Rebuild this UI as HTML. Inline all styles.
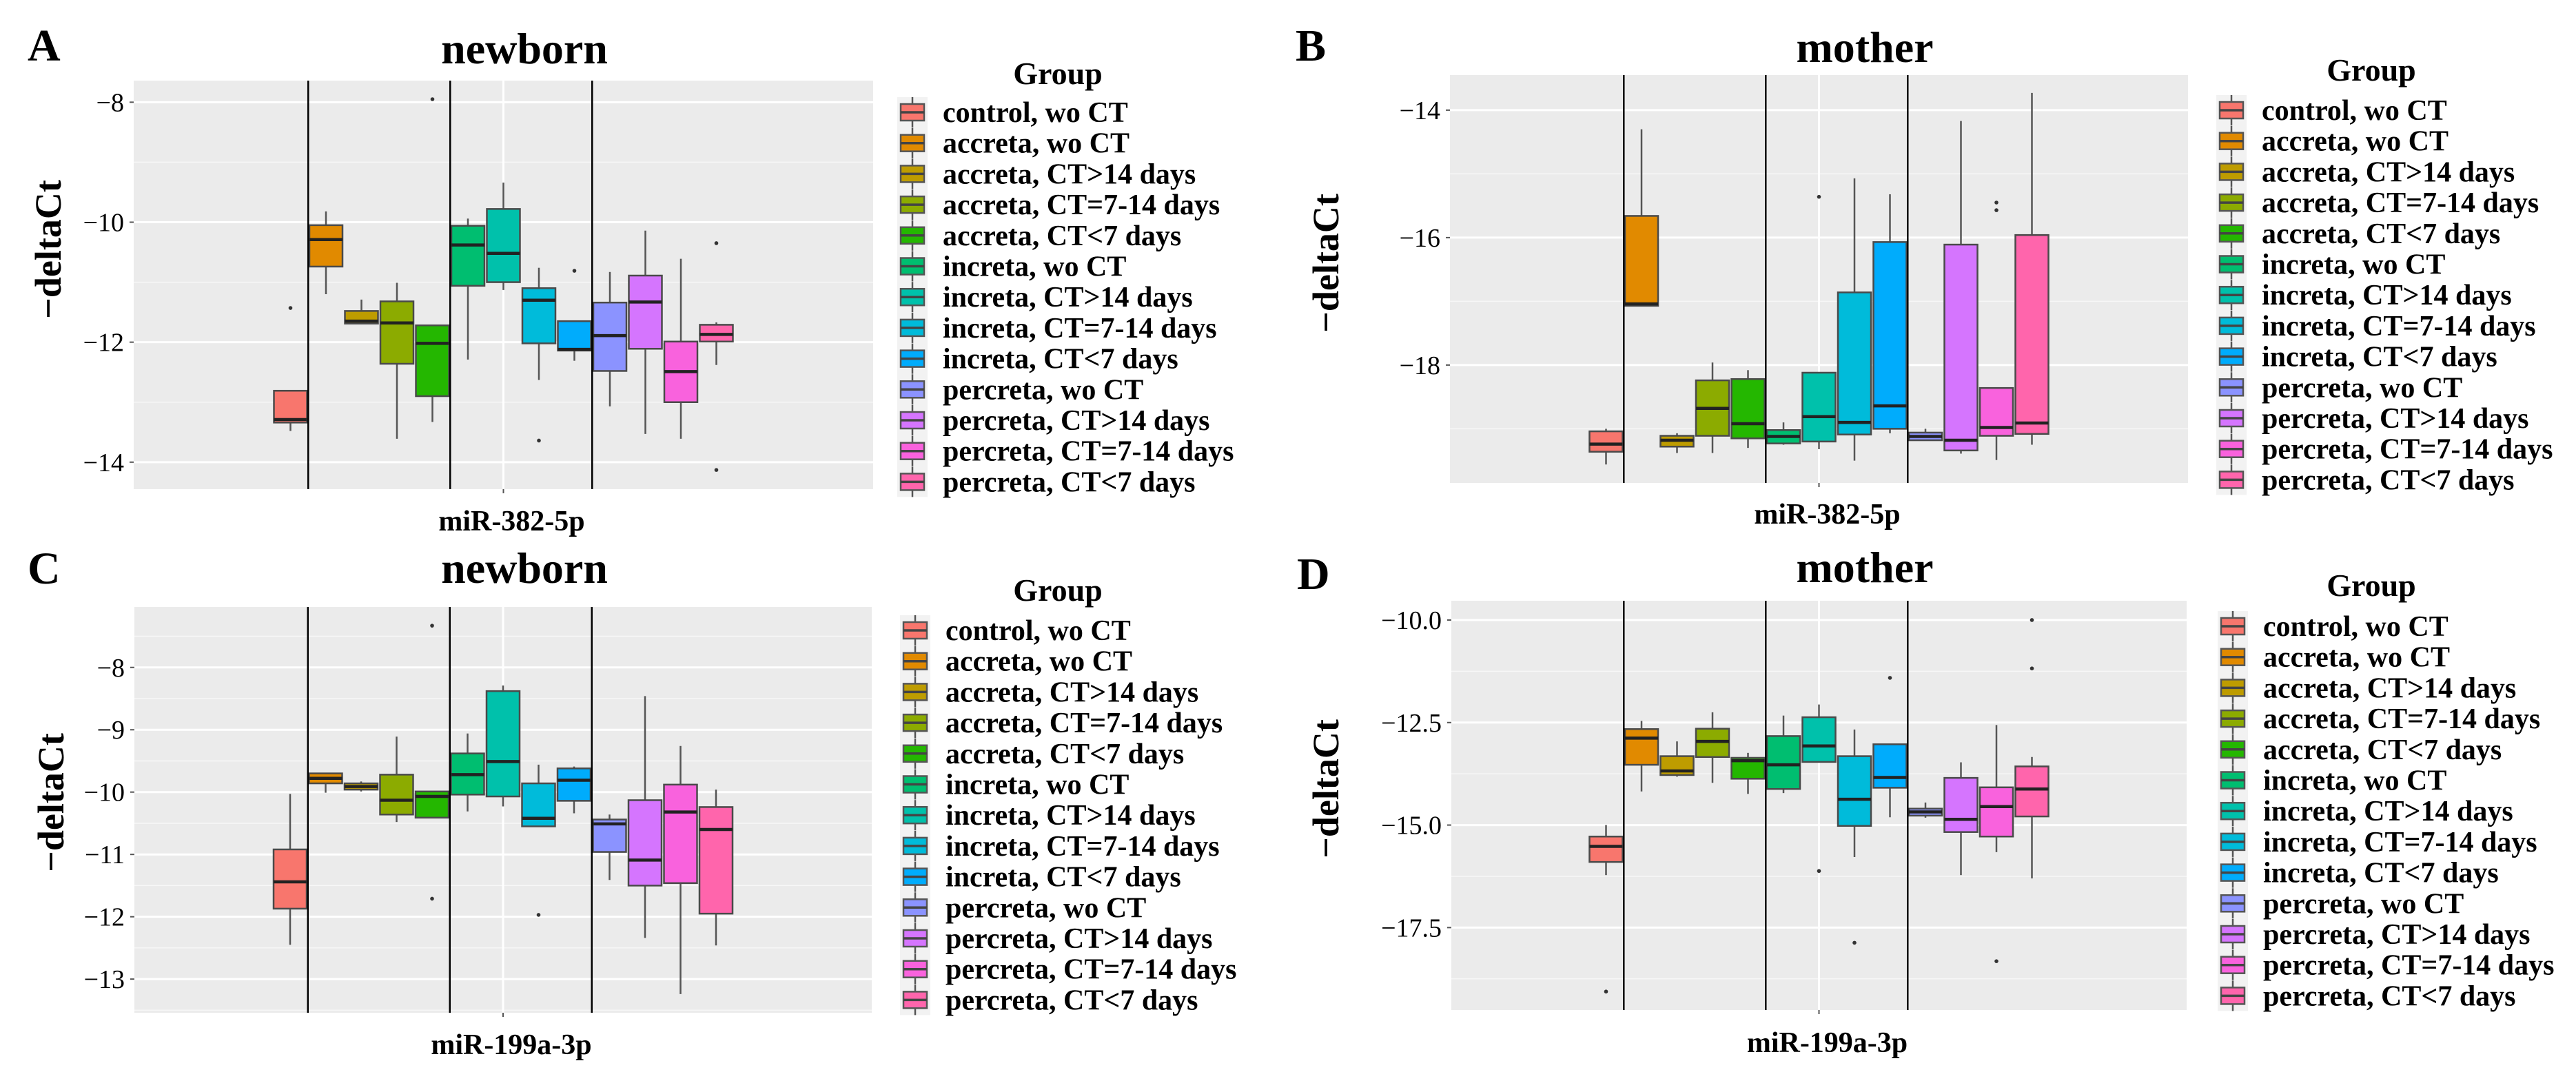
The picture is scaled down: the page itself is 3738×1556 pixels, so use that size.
<!DOCTYPE html>
<html><head><meta charset="utf-8"><style>
html,body{margin:0;padding:0;background:#fff;}
svg{display:block;}
text{font-family:"Liberation Serif",serif;}
</style></head><body>
<svg id="fig" xmlns="http://www.w3.org/2000/svg" width="3738" height="1556" viewBox="0 0 3738 1556"></svg>
<script>
const groups = ["control, wo CT","accreta, wo CT","accreta, CT>14 days","accreta, CT=7-14 days","accreta, CT<7 days","increta, wo CT","increta, CT>14 days","increta, CT=7-14 days","increta, CT<7 days","percreta, wo CT","percreta, CT>14 days","percreta, CT=7-14 days","percreta, CT<7 days"];
const colors = ["#F8766D","#E18A00","#BE9C00","#8CAB00","#24B700","#00BE70","#00C1AB","#00BBDA","#00ACFC","#8B93FF","#D575FE","#F962DD","#FF65AC"];

// Panel A (newborn, miR-382-5p)
const A_hi  = [-12.81,-9.82,-11.29,-11.01,-11.72,-9.94,-9.34,-10.76,-11.65,-10.83,-10.14,-10.61,-11.67];
const A_q3  = [-12.81,-10.05,-11.48,-11.32,-11.72,-10.06,-9.78,-11.10,-11.65,-11.34,-10.89,-11.99,-11.71];
const A_med = [-13.29,-10.29,-11.65,-11.68,-12.02,-10.38,-10.52,-11.30,-12.12,-11.89,-11.33,-12.49,-11.87];
const A_q1  = [-13.34,-10.74,-11.69,-12.36,-12.90,-11.06,-11.00,-12.02,-12.14,-12.48,-12.11,-13.00,-11.99];
const A_lo  = [-13.48,-11.20,-11.70,-13.61,-13.33,-12.29,-11.13,-12.63,-12.31,-13.07,-13.53,-13.61,-12.38];
const A_outGroup = [0,4,7,8,12,12];
const A_outVal   = [-11.43,-7.95,-13.64,-10.81,-10.35,-14.13];
const A_ticks = [-8,-10,-12,-14];

// Panel B (mother, miR-382-5p)
const B_hi  = [-19.00,-14.30,-19.07,-17.96,-18.08,-18.90,-18.12,-15.07,-15.32,-19.00,-14.17,-18.36,-13.73];
const B_q3  = [-19.04,-15.66,-19.11,-18.24,-18.22,-19.02,-18.12,-16.86,-16.07,-19.06,-16.11,-18.36,-15.96];
const B_med = [-19.24,-17.04,-19.18,-18.68,-18.92,-19.12,-18.81,-18.90,-18.64,-19.12,-19.18,-18.98,-18.91];
const B_q1  = [-19.36,-17.07,-19.28,-19.11,-19.15,-19.23,-19.20,-19.09,-19.00,-19.18,-19.34,-19.11,-19.08];
const B_lo  = [-19.56,-17.07,-19.38,-19.38,-19.30,-19.25,-19.32,-19.50,-19.07,-19.19,-19.39,-19.49,-19.25];
const B_outGroup = [6,11,11];
const B_outVal   = [-15.36,-15.45,-15.57];
const B_ticks = [-14,-16,-18];

// Panel C (newborn, miR-199a-3p)
const C_hi  = [-10.03,-9.70,-9.83,-9.11,-9.99,-9.06,-8.29,-9.56,-9.59,-10.36,-8.46,-9.26,-9.96];
const C_q3  = [-10.92,-9.70,-9.86,-9.72,-9.99,-9.38,-8.38,-9.86,-9.62,-10.44,-10.13,-9.88,-10.24];
const C_med = [-11.44,-9.78,-9.91,-10.13,-10.07,-9.72,-9.51,-10.42,-9.81,-10.51,-11.09,-10.32,-10.60];
const C_q1  = [-11.87,-9.86,-9.96,-10.36,-10.41,-10.04,-10.07,-10.55,-10.14,-10.96,-11.50,-11.46,-11.95];
const C_lo  = [-12.45,-10.01,-9.99,-10.48,-10.41,-10.31,-10.23,-10.56,-10.34,-11.41,-12.34,-13.24,-12.46];
const C_outGroup = [4,4,7];
const C_outVal   = [-7.33,-11.71,-11.97];
const C_ticks = [-8,-9,-10,-11,-12,-13];

// Panel D (mother, miR-199a-3p)
const D_hi  = [-15.00,-12.46,-12.96,-12.25,-13.24,-12.33,-12.06,-12.67,-13.03,-14.45,-13.47,-12.56,-13.34];
const D_q3  = [-15.28,-12.66,-13.32,-12.65,-13.36,-12.83,-12.37,-13.32,-13.03,-14.60,-13.85,-14.08,-13.57];
const D_med = [-15.52,-12.88,-13.68,-12.96,-13.43,-13.53,-13.07,-14.37,-13.84,-14.68,-14.86,-14.55,-14.12];
const D_q1  = [-15.90,-13.53,-13.78,-13.34,-13.87,-14.12,-13.46,-15.02,-14.09,-14.77,-15.17,-15.28,-14.79];
const D_lo  = [-16.22,-14.18,-13.82,-13.97,-14.24,-14.22,-13.46,-15.78,-14.81,-14.82,-16.22,-15.66,-16.30];
const D_outGroup = [0,6,7,8,11,12,12];
const D_outVal   = [-19.06,-16.12,-17.87,-11.41,-18.32,-10.00,-11.18];
const D_ticks = [-10.0,-12.5,-15.0,-17.5];
const D_tickLabels = ["-10.0","-12.5","-15.0","-17.5"];

const NS = "http://www.w3.org/2000/svg";
const svg = document.getElementById('fig');
function mk(tag, attrs, parent){
  const e = document.createElementNS(NS, tag);
  for (const k in attrs) e.setAttribute(k, attrs[k]);
  (parent||svg).appendChild(e);
  return e;
}

function panel(cfg){
  const g = mk('g', {});
  
  
  const y = v => cfg.py0 + (cfg.vmax - v) / (cfg.vmax - cfg.vmin) * (cfg.py1 - cfg.py0);
  const cx = (cfg.px0 + cfg.px1) / 2;
  const xb = i => cx + (i - 6) * 51.5;
  const bg = mk('rect', {x:cfg.px0, y:cfg.py0, width:cfg.px1-cfg.px0, height:cfg.py1-cfg.py0, fill:'#ebebeb'}, g);
  
  
  const t = cfg.ticks;
  const step = t[0] - t[1];
  for (let v = t[0] + step/2; v > cfg.vmin; v -= step) {
    if (v < cfg.vmax) {
      const ml = mk('line', {x1:cfg.px0, x2:cfg.px1, y1:y(v), y2:y(v), stroke:'#f7f7f7', 'stroke-width':1.5}, g);
      
      
    }
  }
  t.forEach((v, k) => {
    const gl = mk('line', {x1:cfg.px0, x2:cfg.px1, y1:y(v), y2:y(v), stroke:'#fff', 'stroke-width':3}, g);
    
    
    const tk = mk('line', {x1:cfg.px0-6, x2:cfg.px0, y1:y(v), y2:y(v), stroke:'#555', 'stroke-width':2}, g);
    
    
    const lab = (cfg.tickLabels ? cfg.tickLabels[k] : String(v)).replace('-', '\u2212');
    const tl = mk('text', {x:cfg.px0-14, y:y(v)+13, 'text-anchor':'end', 'font-size':38, fill:'#000'}, g);
    tl.textContent = lab;
    
    
  });
  const vg = mk('line', {x1:cx, x2:cx, y1:cfg.py0, y2:cfg.py1, stroke:'#fff', 'stroke-width':3}, g);
  
  
  const xt = mk('line', {x1:cx, x2:cx, y1:cfg.py1, y2:cfg.py1+6, stroke:'#555', 'stroke-width':2}, g);
  
  
  for (let i = 0; i < 13; i++) {
    const bx = mk('g', {}, g);
    
    
    const x = xb(i);
    mk('line', {x1:x, x2:x, y1:y(cfg.hi[i]), y2:y(cfg.q3[i]), stroke:'#555', 'stroke-width':2.5}, bx);
    mk('line', {x1:x, x2:x, y1:y(cfg.q1[i]), y2:y(cfg.lo[i]), stroke:'#555', 'stroke-width':2.5}, bx);
    mk('rect', {x:x-24, y:y(cfg.q3[i]), width:48, height:Math.max(1, y(cfg.q1[i])-y(cfg.q3[i])), fill:colors[i], stroke:'#4a4a4a', 'stroke-width':2.5}, bx);
    mk('line', {x1:x-24, x2:x+24, y1:y(cfg.med[i]), y2:y(cfg.med[i]), stroke:'#222', 'stroke-width':4.5}, bx);
  }
  cfg.outG.forEach((gi, k) => {
    const o = mk('circle', {cx:xb(gi), cy:y(cfg.outV[k]), r:2.8, fill:'#333'}, g);
    
    
  });
  [0.5, 4.5, 8.5].forEach(p => {
    const s = mk('line', {x1:xb(p), x2:xb(p), y1:cfg.py0, y2:cfg.py1, stroke:'#000', 'stroke-width':2.5}, g);
    
    
  });
  const L = mk('text', {x:cfg.lx, y:cfg.ly, 'font-size':66, 'font-weight':'bold'}, g);
  L.textContent = cfg.letter;
  
  
  const T = mk('text', {x:cfg.tx, y:cfg.ty, 'font-size':64, 'font-weight':'bold', 'text-anchor':'middle'}, g);
  T.textContent = cfg.title;
  
  
  const X = mk('text', {x:cx+12, y:cfg.xly, 'font-size':42, 'font-weight':'bold', 'text-anchor':'middle'}, g);
  X.textContent = cfg.xlab;
  
  
  const Y = mk('text', {x:0, y:0, 'font-size':54, 'font-weight':'bold', 'text-anchor':'middle', transform:`translate(${cfg.ytx},${cfg.yty}) rotate(-90)`}, g);
  Y.textContent = '\u2212deltaCt';
  
  
  const lg = mk('g', {}, g);
  
  
  const GT = mk('text', {x:cfg.gx, y:cfg.gy, 'font-size':46, 'font-weight':'bold', 'text-anchor':'middle'}, lg);
  GT.textContent = 'Group';
  
  
  mk('rect', {x:cfg.kx-22, y:cfg.ky0-22, width:44, height:12*44.7+44, fill:'#f2f2f2'}, lg);
  groups.forEach((name, i) => {
    const e = mk('g', {}, lg);
    
    
    const yc = cfg.ky0 + i*44.7;
    mk('line', {x1:cfg.kx, x2:cfg.kx, y1:yc-22, y2:yc+22, stroke:'#555', 'stroke-width':2.5}, e);
    mk('rect', {x:cfg.kx-17, y:yc-12, width:34, height:24, fill:colors[i], stroke:'#555', 'stroke-width':2.5}, e);
    mk('line', {x1:cfg.kx-17, x2:cfg.kx+17, y1:yc, y2:yc, stroke:'#444', 'stroke-width':3.5}, e);
    const tx = mk('text', {x:cfg.kx+44, y:yc+14, 'font-size':42, 'font-weight':'bold'}, e);
    tx.textContent = name;
  });
}

panel({letter:'A', title:'newborn', xlab:'miR-382-5p', px0:194, px1:1267, py0:117, py1:710, vmax:-7.64, vmin:-14.45,
  ticks:A_ticks, hi:A_hi, q3:A_q3, med:A_med, q1:A_q1, lo:A_lo, outG:A_outGroup, outV:A_outVal,
  lx:40, ly:88, tx:761, ty:92, xly:770, ytx:88, yty:362, gx:1535, gy:122, kx:1324, ky0:163});
panel({letter:'B', title:'mother', xlab:'miR-382-5p', px0:2104, px1:3175, py0:109, py1:701, vmax:-13.45, vmin:-19.85,
  ticks:B_ticks, hi:B_hi, q3:B_q3, med:B_med, q1:B_q1, lo:B_lo, outG:B_outGroup, outV:B_outVal,
  lx:1880, ly:88, tx:2706, ty:90, xly:760, ytx:1942, yty:382, gx:3441, gy:117, kx:3238, ky0:160});
panel({letter:'C', title:'newborn', xlab:'miR-199a-3p', px0:195, px1:1265, py0:881, py1:1470, vmax:-7.03, vmin:-13.54,
  ticks:C_ticks, hi:C_hi, q3:C_q3, med:C_med, q1:C_q1, lo:C_lo, outG:C_outGroup, outV:C_outVal,
  lx:40, ly:847, tx:761, ty:846, xly:1530, ytx:92, yty:1165, gx:1535, gy:872, kx:1328, ky0:915});
panel({letter:'D', title:'mother', xlab:'miR-199a-3p', px0:2106, px1:3173, py0:872, py1:1466, vmax:-9.53, vmin:-19.51,
  ticks:D_ticks, tickLabels:D_tickLabels, hi:D_hi, q3:D_q3, med:D_med, q1:D_q1, lo:D_lo, outG:D_outGroup, outV:D_outVal,
  lx:1882, ly:855, tx:2706, ty:845, xly:1527, ytx:1942, yty:1145, gx:3441, gy:865, kx:3240, ky0:909});
</script>
</body></html>
